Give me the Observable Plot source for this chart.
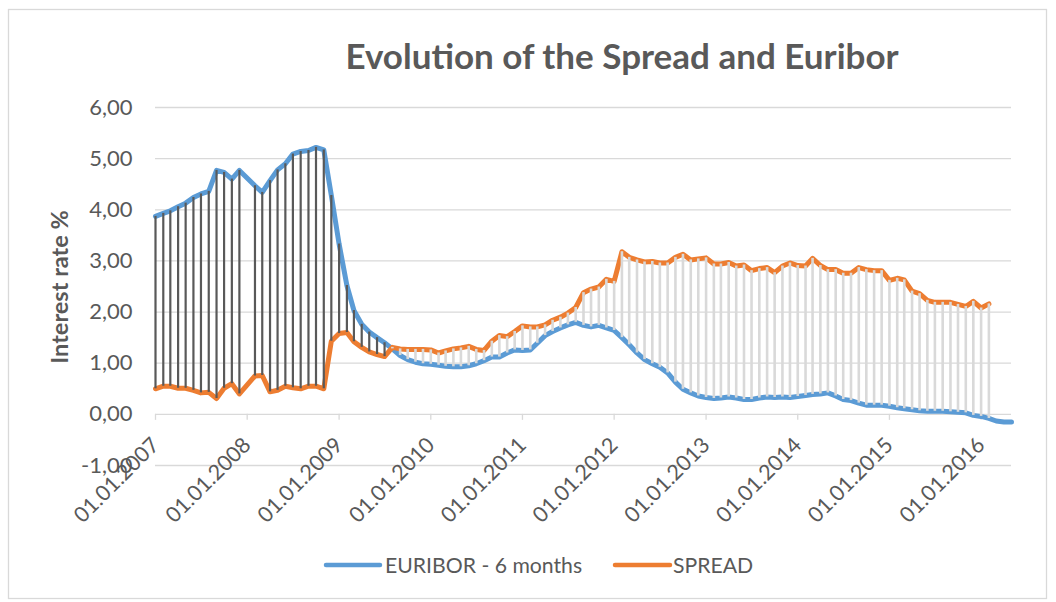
<!DOCTYPE html>
<html>
<head>
<meta charset="utf-8">
<script src="https://cdn.jsdelivr.net/npm/d3@7"></script>
<script src="https://cdn.jsdelivr.net/npm/@observablehq/plot@0.6"></script>
<style>
  html, body { margin: 0; padding: 0; background: #ffffff; }
  #wrap { position: relative; width: 1056px; height: 602px; overflow: hidden; font-family: Lato, "Open Sans", sans-serif; }
  #wrap > svg { position: absolute; left: 0; top: 0; }
</style>
</head>
<body>
<div id="wrap"></div>
<script>
// ---- data (monthly, first month = January 2007; null = no observation) ----
const firstYear = 2007;
const euribor = [
  3.87, 3.93, 3.98, 4.06, 4.13, 4.24, 4.31, 4.36, 4.77, 4.73, 4.60, 4.77,
  null, 4.47, 4.34, 4.57, 4.78, 4.90, 5.09, 5.14, 5.16, 5.22, 5.17, 4.28,
  3.33, 2.52, 2.03, 1.76, 1.61, 1.50, 1.40, 1.28, 1.15, 1.07, 1.02, 0.99,
  0.98, 0.96, 0.94, 0.93, 0.93, 0.95, 0.99, 1.05, 1.12, 1.12, 1.20, 1.26,
  1.25, 1.26, 1.39, 1.54, 1.62, 1.69, 1.75, 1.80, 1.74, 1.71, 1.74, 1.69,
  1.64, 1.50, 1.36, 1.20, 1.07, 0.99, 0.92, 0.81, 0.63, 0.49, 0.42, 0.36,
  0.33, 0.31, 0.32, 0.34, 0.32, 0.29, 0.29, 0.32, 0.34, 0.33, 0.34, 0.33,
  0.35, 0.37, 0.39, 0.40, 0.42, 0.36, 0.29, 0.27, 0.22, 0.18, 0.18, 0.18,
  0.16, 0.13, 0.11, 0.09, 0.07, 0.06, 0.06, 0.06, 0.05, 0.04, 0.03, -0.02,
  -0.04, -0.08, -0.13, -0.15, -0.15
];
const spread = [
  0.50, 0.55, 0.55, 0.51, 0.51, 0.47, 0.42, 0.43, 0.31, 0.51, 0.60, 0.40,
  null, 0.75, 0.76, 0.44, 0.47, 0.55, 0.52, 0.50, 0.55, 0.55, 0.50, 1.43,
  1.58, 1.60, 1.42, 1.31, 1.22, 1.17, 1.13, 1.31, 1.28, 1.27, 1.27, 1.27,
  1.26, 1.20, 1.24, 1.28, 1.30, 1.33, 1.27, 1.25, 1.43, 1.54, 1.52, 1.62,
  1.73, 1.71, 1.71, 1.75, 1.84, 1.90, 1.98, 2.09, 2.38, 2.45, 2.49, 2.64,
  2.60, 3.18, 3.07, 3.02, 2.98, 2.99, 2.96, 2.96, 3.07, 3.13, 3.02, 3.04,
  3.06, 2.94, 2.94, 2.97, 2.90, 2.92, 2.81, 2.85, 2.87, 2.77, 2.90, 2.96,
  2.91, 2.90, 3.05, 2.91, 2.83, 2.83, 2.76, 2.76, 2.87, 2.83, 2.81, 2.81,
  2.62, 2.66, 2.63, 2.41, 2.36, 2.23, 2.19, 2.19, 2.19, 2.15, 2.11, 2.21,
  2.08, 2.16
];
const seriesNames = ["EURIBOR - 6 months", "SPREAD"];
const seriesColors = ["#5B9BD5", "#ED7D31"];
const xTickYears = [2007, 2008, 2009, 2010, 2011, 2012, 2013, 2014, 2015, 2016];
const xTickLabels = ["01.01.2007", "01.01.2008", "01.01.2009", "01.01.2010", "01.01.2011",
                     "01.01.2012", "01.01.2013", "01.01.2014", "01.01.2015", "01.01.2016"];
const yTicks = [-1, 0, 1, 2, 3, 4, 5, 6];
const yTickLabels = ["-1,00", "0,00", "1,00", "2,00", "3,00", "4,00", "5,00", "6,00"];
const chartTitle = "Evolution of the Spread and Euribor";
const yTitle = "Interest rate %";

// ---- derived tables ----
const rows = euribor
  .map((e, i) => ({date: new Date(Date.UTC(firstYear, i, 1)), euribor: e, spread: i < spread.length ? spread[i] : null}))
  .filter(d => d.euribor != null);
const both = rows.filter(d => d.spread != null);
const xTicks = xTickYears.map(y => new Date(Date.UTC(y, 0, 1)));

const FONT = "Lato, 'Open Sans', sans-serif";
const TXT = "#595959";
const GRID = "#d9d9d9";

const chart = Plot.plot({
  width: 1056,
  height: 602,
  marginLeft: 155,
  marginRight: 45,
  marginTop: 107,
  marginBottom: 137,
  style: {fontFamily: FONT, background: "transparent", overflow: "visible"},
  x: {type: "utc", domain: [rows[0].date, rows[rows.length - 1].date], axis: null},
  y: {domain: [-1, 6], axis: null},
  marks: [
    Plot.ruleY(yTicks, {stroke: GRID, strokeWidth: 1.3}),
    Plot.ruleX(xTicks, {x: d => d, y1: 0, y2: 0, insetTop: 6, stroke: GRID, strokeWidth: 1.3}),
    Plot.text(yTicks, {y: d => d, frameAnchor: "left", text: (d, i) => yTickLabels[i],
      textAnchor: "end", dx: -23, fontSize: 22, fill: TXT}),
    Plot.text(xTicks, {x: d => d, y: 0, text: (d, i) => xTickLabels[i], rotate: -45,
      textAnchor: "end", lineAnchor: "bottom", dx: 5, dy: 32, fontSize: 21.5, fill: TXT}),
    Plot.line(rows, {x: "date", y: "euribor", stroke: seriesColors[0], strokeWidth: 5,
      strokeLinecap: "round", strokeLinejoin: "round"}),
    Plot.line(both, {x: "date", y: "spread", stroke: seriesColors[1], strokeWidth: 5,
      strokeLinecap: "round", strokeLinejoin: "round"}),
    Plot.ruleX(both.filter(d => d.euribor > d.spread), {x: "date", y1: "euribor", y2: "spread",
      stroke: "#595959", strokeWidth: 2.2}),
    Plot.ruleX(both.filter(d => d.euribor <= d.spread), {x: "date", y1: "spread", y2: "euribor",
      stroke: "#d9d9d9", strokeWidth: 2.6})
  ]
});
document.getElementById("wrap").appendChild(chart);

// ---- overlay: chart border, title, axis title, legend ----
const ov = d3.select("#wrap").append("svg")
  .attr("width", 1056).attr("height", 602)
  .style("font-family", FONT).style("pointer-events", "none");

ov.append("rect").attr("x", 8.5).attr("y", 9.5).attr("width", 1038).attr("height", 589)
  .attr("fill", "none").attr("stroke", GRID).attr("stroke-width", 1.3);

ov.append("text").attr("x", 622).attr("y", 69).attr("text-anchor", "middle")
  .attr("font-size", 35).attr("font-weight", 700).attr("fill", TXT).text(chartTitle);

ov.append("text").attr("transform", "translate(68,287) rotate(-90)").attr("text-anchor", "middle")
  .attr("font-size", 23.5).attr("font-weight", 700).attr("fill", TXT).text(yTitle);

const legendItems = [
  {name: seriesNames[0], color: seriesColors[0], x1: 326, x2: 380, tx: 385},
  {name: seriesNames[1], color: seriesColors[1], x1: 615, x2: 670, tx: 673}
];
const lg = ov.append("g");
legendItems.forEach(it => {
  lg.append("line").attr("x1", it.x1).attr("x2", it.x2).attr("y1", 565).attr("y2", 565)
    .attr("stroke", it.color).attr("stroke-width", 4.5).attr("stroke-linecap", "round");
  lg.append("text").attr("x", it.tx).attr("y", 573).attr("font-size", 21.2).attr("fill", TXT).text(it.name);
});
</script>
</body>
</html>
